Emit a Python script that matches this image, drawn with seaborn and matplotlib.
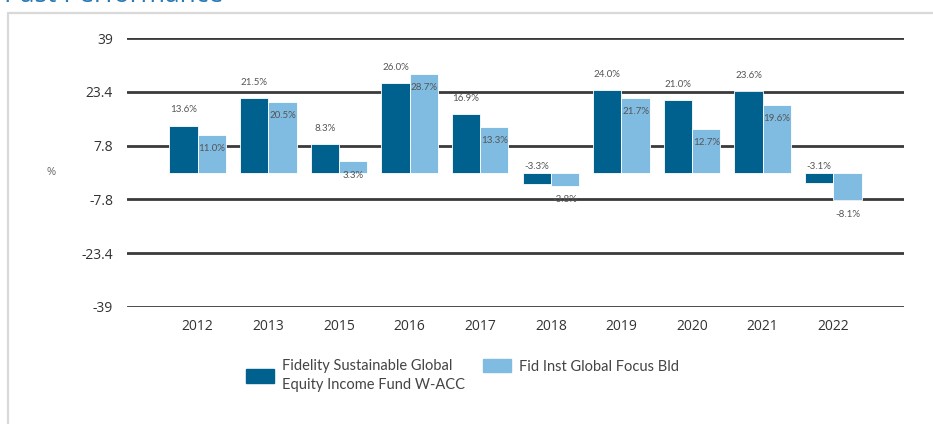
import pandas as pd
import matplotlib
matplotlib.use("Agg")
import matplotlib.pyplot as plt
from matplotlib.lines import Line2D
import seaborn as sns

# Past performance data (calendar year returns, %)
years = ["2012", "2013", "2015", "2016", "2017", "2018", "2019", "2020", "2021", "2022"]
fund_returns = [13.6, 21.5, 8.3, 26.0, 16.9, -3.3, 24.0, 21.0, 23.6, -3.1]
bench_returns = [11.0, 20.5, 3.3, 28.7, 13.3, -3.8, 21.7, 12.7, 19.6, -8.1]
fund_name = "Fidelity Sustainable Global\nEquity Income Fund W-ACC"
bench_name = "Fid Inst Global Focus Bld"
ytick_values = [-39, -23.4, -7.8, 7.8, 23.4, 39]
ytick_labels = ["-39", "-23.4", "-7.8", "7.8", "23.4", "39"]

dark_blue = "#00618f"
light_blue = "#80bbe1"

sns.set_theme(style="white")
plt.rcParams["font.family"] = ["Open Sans", "DejaVu Sans"]

df = pd.DataFrame({
    "year": years * 2,
    "value": fund_returns + bench_returns,
    "series": [fund_name] * len(years) + [bench_name] * len(years),
})

fig = plt.figure(figsize=(9.33, 4.24), dpi=100)
ax = fig.add_axes([127 / 933, 1 - 307 / 424, 777 / 933, 269 / 424])

sns.barplot(data=df, x="year", y="value", hue="series", order=years,
            hue_order=[fund_name, bench_name],
            palette=[dark_blue, light_blue], saturation=1, width=0.8, ax=ax,
            edgecolor="white", linewidth=0.6, legend=False)

ax.set_ylim(-39, 39)
ax.set_xlim(-1, 10)
ax.set_yticks(ytick_values)
ax.set_yticklabels(ytick_labels)
ax.yaxis.grid(True, color="#3a3a3a", linewidth=2.0)
ax.set_axisbelow(True)
for s in ax.spines.values():
    s.set_visible(False)
ax.tick_params(axis="y", length=0, pad=10, labelsize=10, labelcolor="#333333")
ax.tick_params(axis="x", length=0, pad=9, labelsize=10, labelcolor="#333333")
ax.set_xlabel("")
ax.set_ylabel("%", rotation=0, fontsize=8, color="#666666", va="center")
ax.yaxis.set_label_coords(-0.098, 0.5)

# value labels
label_kw = dict(textcoords="offset points", ha="center", fontsize=7,
                color="#555555", family=["Lato", "DejaVu Sans"])
for rect, v in zip(ax.containers[0], fund_returns):
    cx = rect.get_x() + rect.get_width() / 2
    ax.annotate(f"{v:.1f}%", xy=(cx, max(v, 0)), xytext=(0, 8 if v > 0 else 1),
                va="bottom", **label_kw)
for rect, v in zip(ax.containers[1], bench_returns):
    cx = rect.get_x() + rect.get_width() / 2
    ax.annotate(f"{v:.1f}%", xy=(cx, v), xytext=(0, -10), va="center", **label_kw)

# legend: two entries, top aligned, like the reference
leg_kw = dict(loc="upper left", frameon=False, borderaxespad=0, borderpad=0,
              handlelength=1.9, handleheight=1.0, handletextpad=0.6,
              prop={"family": ["Lato", "DejaVu Sans"], "size": 10.5},
              labelcolor="#444444")
leg1 = fig.legend([plt.Rectangle((0, 0), 1, 1, color=dark_blue)], [fund_name],
                  bbox_to_anchor=(246 / 933, 1 - 359 / 424), **leg_kw)
for t in leg1.get_texts():
    t.set_linespacing(1.45)
fig.legend([plt.Rectangle((0, 0), 1, 1, color=light_blue)], [bench_name],
           bbox_to_anchor=(483 / 933, 1 - 359 / 424), **leg_kw)

# panel frame and cut-off section title
fig.add_artist(Line2D([8 / 933, 8 / 933], [0, 1 - 13 / 424], color="#d9d9d9", lw=1.6))
fig.add_artist(Line2D([8 / 933, 1], [1 - 13 / 424, 1 - 13 / 424], color="#d9d9d9", lw=1.6))
fig.text(4 / 933, 1 - 1.5 / 424, "Past Performance", color="#2a7ab5", fontsize=19,
         va="baseline", ha="left")

fig.savefig("out.png", dpi=100)
